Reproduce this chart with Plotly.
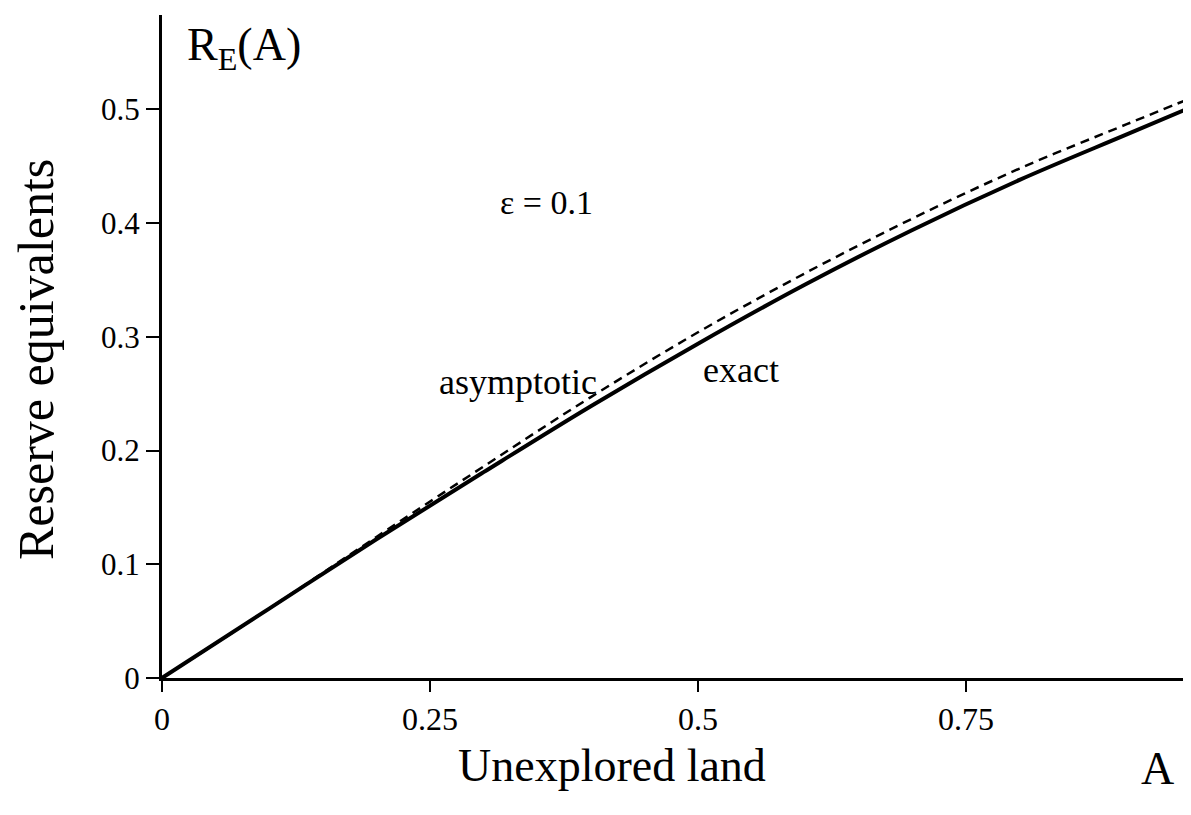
import plotly.graph_objects as go

# Data
A_vals = [0, 0.1, 0.2, 0.3, 0.4, 0.5, 0.6, 0.7, 0.8, 0.9, 0.96]
exact = [0, 0.061, 0.122, 0.181, 0.239, 0.294, 0.346, 0.394, 0.438, 0.478, 0.502]
asymptotic = [0, 0.061, 0.124, 0.186, 0.247, 0.304, 0.356, 0.404, 0.448, 0.487, 0.510]

x_ticks = [0, 0.25, 0.5, 0.75]
x_ticktext = ["0", "0.25", "0.5", "0.75"]
y_ticks = [0, 0.1, 0.2, 0.3, 0.4, 0.5]
y_ticktext = ["0", "0.1", "0.2", "0.3", "0.4", "0.5"]

FONT = "Liberation Serif, Times New Roman, serif"

# the page body has an 8px margin; compensate so the plot lands where the reference has it
OFF = 8
PLOT_L, PLOT_R, PLOT_T, PLOT_B = 162, 1183, 15, 678   # screen pixels
W, H = PLOT_R - OFF, 815 - 2 * OFF
L = PLOT_L - OFF
T = PLOT_T - OFF
PW = W - L
PH = PLOT_B - PLOT_T
B = H - T - PH
X_PER_UNIT = 1072.0   # screen px per unit of A (tick spacing in the reference)
x_max = PW / X_PER_UNIT


def px(sx):
    return (sx - PLOT_L) / PW


def py(sy):
    return (PLOT_B - sy) / PH


fig = go.Figure()
fig.add_trace(go.Scatter(x=A_vals, y=asymptotic, mode="lines",
                         line=dict(color="black", width=2.5, dash="9px,6px", shape="spline"),
                         showlegend=False))
fig.add_trace(go.Scatter(x=A_vals, y=exact, mode="lines",
                         line=dict(color="black", width=4, shape="spline"),
                         showlegend=False))

annotations = [
    dict(text="R<sub>E</sub>(A)", x=px(185), y=py(48), xanchor="left", yanchor="middle",
         font=dict(size=46)),
    dict(text="ε = 0.1", x=px(546), y=py(202), xanchor="center", yanchor="middle",
         font=dict(size=34)),
    dict(text="asymptotic", x=px(518), y=py(382), xanchor="center", yanchor="middle",
         font=dict(size=36)),
    dict(text="exact", x=px(741), y=py(370), xanchor="center", yanchor="middle",
         font=dict(size=36)),
    dict(text="A", x=px(1157), y=py(768), xanchor="center", yanchor="middle",
         font=dict(size=46)),
    dict(text="Unexplored land", x=px(612), y=py(765), xanchor="center", yanchor="middle",
         font=dict(size=46)),
    dict(text="Reserve equivalents", x=px(36), y=py(360), xanchor="center", yanchor="middle",
         textangle=-90, font=dict(size=50)),
]
for a in annotations:
    a.update(xref="paper", yref="paper", showarrow=False)
    a["font"].update(family=FONT, color="black")

fig.update_layout(
    width=W, height=H,
    margin=dict(l=L, r=0, t=T, b=B, pad=0),
    paper_bgcolor="white", plot_bgcolor="white",
    font=dict(family=FONT, color="black"),
    annotations=annotations,
    xaxis=dict(range=[0, x_max], tickvals=x_ticks, ticktext=x_ticktext,
               showgrid=False, zeroline=False, showline=True, linecolor="black", linewidth=3,
               ticks="outside", ticklen=11, tickwidth=2, tickcolor="black",
               tickfont=dict(size=32, family=FONT, color="black")),
    yaxis=dict(range=[0, 0.583], tickvals=y_ticks, ticktext=y_ticktext,
               showgrid=False, zeroline=False, showline=True, linecolor="black", linewidth=3,
               ticks="outside", ticklen=13, tickwidth=2, tickcolor="black",
               tickfont=dict(size=31, family=FONT, color="black")),
)

fig.write_html("out.html")
